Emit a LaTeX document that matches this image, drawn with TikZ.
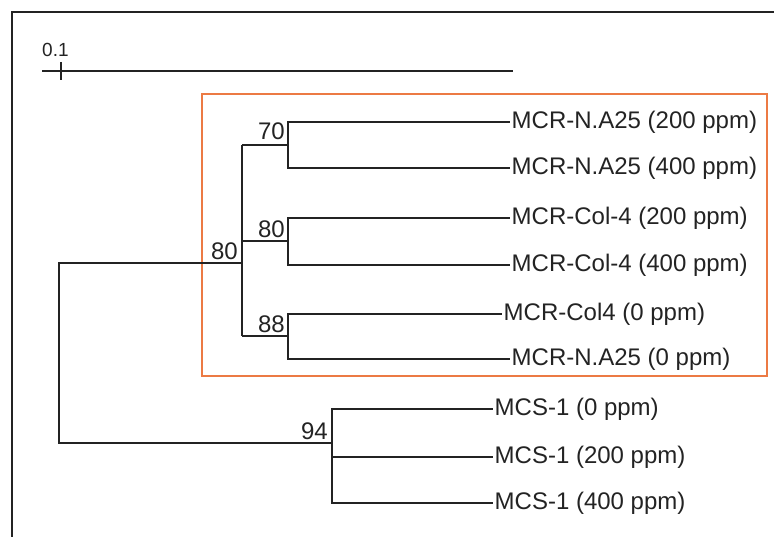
\documentclass[tikz,border=0pt]{standalone}
\usepackage{fontspec}
\setmainfont{Liberation Sans}
\definecolor{boxorange}{RGB}{236,122,68}
\definecolor{inkgray}{RGB}{35,35,35}
\begin{document}
\begin{tikzpicture}[x=1pt,y=-1pt,
  branch/.style={line width=1.5pt, color=inkgray},
  leaf/.style={anchor=west, inner sep=1.5pt, text=inkgray, font=\fontsize{24}{24}\selectfont},
  boot/.style={anchor=south east, inner sep=1pt, text=inkgray, font=\fontsize{24}{24}\selectfont}]
\useasboundingbox (0,0) rectangle (774,537);
% frame
\draw[line width=2.8pt, inkgray] (12,537) -- (12,12) -- (774,12);
% scale bar
\node (sc) [anchor=south west, inner sep=0pt, text=inkgray, font=\fontsize{19}{19}\selectfont] at (42,57) {0.1};
\coordinate (b1) at (42,71);
\coordinate (b2) at (513,71);
\coordinate (t1) at (61,62);
\coordinate (t2) at (61,80);
\draw[branch, line width=1.3pt] (b1) -- (b2);
\draw[branch, line width=1.3pt] (t1) -- (t2);
% orange box
\draw[boxorange, line width=2.8pt] (202,94) rectangle (767,376);
% leaves
\node[leaf] (l1) at (510,122) {MCR-N.A25 (200 ppm)};
\node[leaf] (l2) at (510,168) {MCR-N.A25 (400 ppm)};
\node[leaf] (l3) at (510,218) {MCR-Col-4 (200 ppm)};
\node[leaf] (l4) at (510,265) {MCR-Col-4 (400 ppm)};
\node[leaf] (l5) at (502,314) {MCR-Col4 (0 ppm)};
\node[leaf] (l6) at (510,359) {MCR-N.A25 (0 ppm)};
\node[leaf] (s1) at (493,409) {MCS-1 (0 ppm)};
\node[leaf] (s2) at (493,457) {MCS-1 (200 ppm)};
\node[leaf] (s3) at (493,503) {MCS-1 (400 ppm)};
% internal nodes
\coordinate (n70) at (288,145);
\coordinate (n80) at (288,241);
\coordinate (n88) at (288,336);
\coordinate (a70) at (242,145);
\coordinate (a80) at (242,241);
\coordinate (a88) at (242,336);
\coordinate (cl) at (242,263);
\coordinate (root) at (59,263);
\coordinate (rootb) at (59,443);
\coordinate (mcs) at (332,443);
% branches
\draw[branch] (n70) |- (l1.west);
\draw[branch] (n70) |- (l2.west);
\draw[branch] (n80) |- (l3.west);
\draw[branch] (n80) |- (l4.west);
\draw[branch] (n88) |- (l5.west);
\draw[branch] (n88) |- (l6.west);
\draw[branch] (a70) -- (n70);
\draw[branch] (a80) -- (n80);
\draw[branch] (a88) -- (n88);
\draw[branch] (a70) -- (a88);
\draw[branch] (cl) -- (root) -- (rootb) -- (mcs);
\draw[branch] (mcs) |- (s1.west);
\draw[branch] (mcs) |- (s3.west);
\draw[branch] (mcs |- s2.west) -- (s2.west);
% bootstrap values
\node[boot] (b70) at (286,141) {70};
\node[boot] (b80) at (286,239) {80};
\node[boot] (b88) at (286,334) {88};
\node[boot] (broot) at (239,261) {80};
\node[boot] (b94) at (329,441) {94};
\end{tikzpicture}
\end{document}
